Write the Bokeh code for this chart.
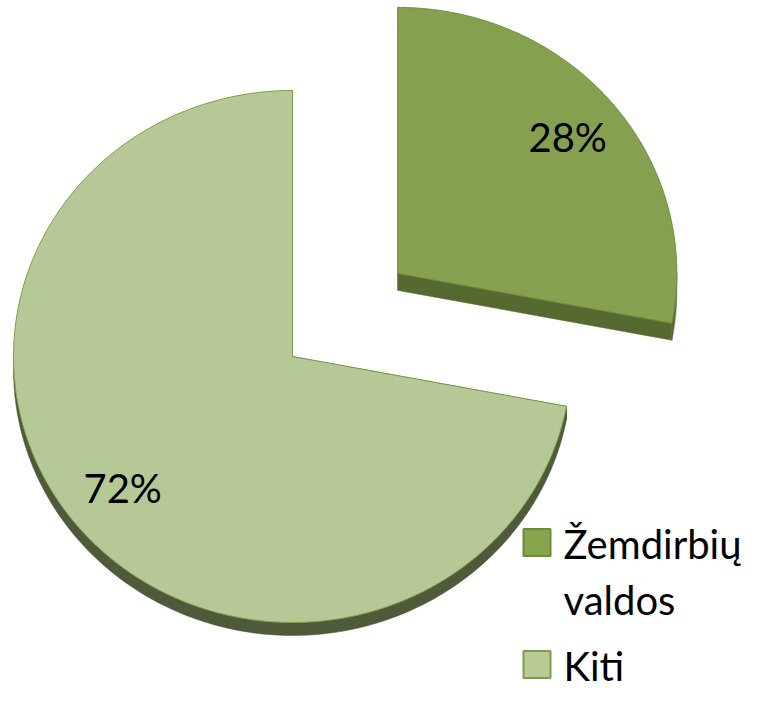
import numpy as np
from bokeh.plotting import figure
from bokeh.models import Range1d
from bokeh.core.properties import value
from bokeh.embed import file_html
from bokeh.resources import INLINE

# ---- data ----
categories = ["Žemdirbių valdos", "Kiti"]
shares = [28, 72]
pct_text = ["28%", "72%"]

# ---- style ----
top_colors = ["#85A14F", "#B6C895"]
side_colors = ["#566A30", "#4E5A3A"]
edge_colors = ["#6E8A3C", "#7E9C4C"]
legend_fill = ["#87A44F", "#B8CB97"]
legend_line = ["#6E8A3C", "#7E9C4C"]
explode = [0.49, 0.0]
thickness = [17, 13]
FONT = "Lato"

CX, CY = 292.0, 356.0
RX, RY = 279.0, 266.0
LABEL_R = 0.79

W, H = 749, 688
p = figure(width=W, height=H, output_backend="svg", toolbar_location=None,
           x_range=Range1d(0, W), y_range=Range1d(H, 0),
           x_axis_location=None, y_axis_location=None, min_border=0)
p.outline_line_color = None
p.grid.visible = False
p.background_fill_color = "white"


def pt(cx, cy, deg, f=1.0):
    t = np.radians(deg)
    return cx + f * RX * np.sin(t), cy - f * RY * np.cos(t)


total = float(sum(shares))
start = 0.0
label_x, label_y = [], []
for i, s in enumerate(shares):
    a = start
    b = start + 360.0 * s / total
    mid = (a + b) / 2
    ex, ey = pt(0, 0, mid, explode[i])
    vx, vy = CX + ex, CY + ey
    th = thickness[i]

    # side faces
    xs_side, ys_side = [], []
    lo, hi = max(a, 90.0), min(b, 270.0)
    if hi > lo:
        ang = np.linspace(lo, hi, 200)
        ax, ay = pt(vx, vy, ang)
        xs_side.append(list(ax) + list(ax[::-1]))
        ys_side.append(list(ay) + list(ay[::-1] + th))
    for edge in (a, b):
        px, py = pt(vx, vy, edge)
        xs_side.append([vx, px, px, vx])
        ys_side.append([vy, py, py + th, vy + th])
    p.patches(xs_side, ys_side, fill_color=side_colors[i], line_color=side_colors[i], line_width=0.5)

    # top surface
    ang = np.linspace(a, b, 400)
    ax, ay = pt(vx, vy, ang)
    p.patch([vx] + list(ax) + [vx], [vy] + list(ay) + [vy], fill_color=top_colors[i],
            line_color=edge_colors[i], line_width=1)

    lx, ly = pt(vx, vy, mid, LABEL_R)
    label_x.append(lx)
    label_y.append(ly - 2)
    start = b

p.text(x=label_x, y=label_y, text=pct_text, text_font=value(FONT), text_font_size="40px",
       text_align="center", text_baseline="middle", text_color="black")

# ---- legend ----
sq = 27
text_x = 563
row_centers = [542, 664]
line_gap = 56
p.rect(x=[523 + sq / 2] * 2, y=row_centers, width=sq, height=sq,
       fill_color=legend_fill, line_color=legend_line, line_width=2)
tx, ty, tt = [], [], []
for cat, c0 in zip(categories, row_centers):
    parts = cat.split(" ") if len(cat) > 10 else [cat]
    for k, part in enumerate(parts):
        tx.append(text_x)
        ty.append(c0 + 1 + k * line_gap)
        tt.append(part)
p.text(x=tx, y=ty, text=tt, text_font=value(FONT), text_font_size="40px",
       text_align="left", text_baseline="middle", text_color="black")

open("out.html", "w").write(file_html(p, INLINE))
